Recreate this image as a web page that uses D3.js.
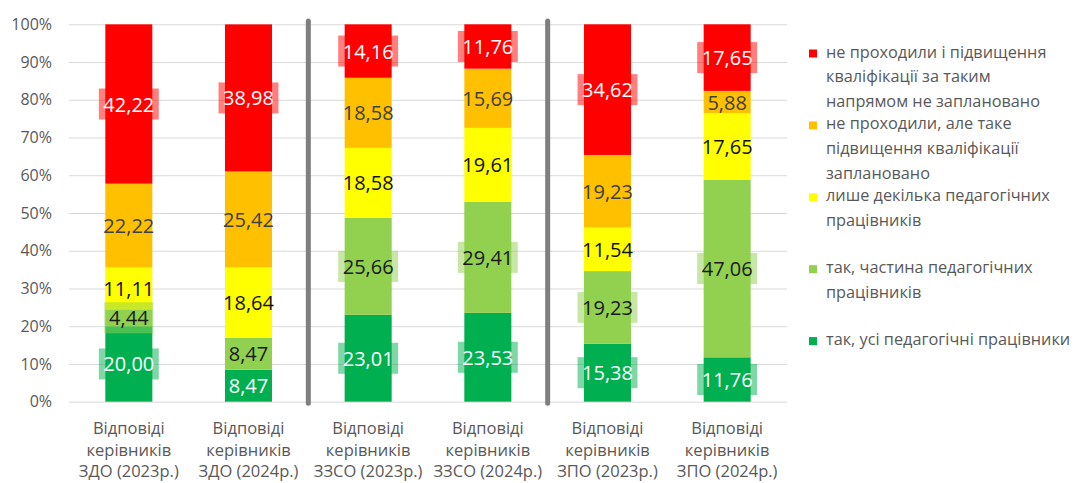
<!DOCTYPE html>
<html>
<head>
<meta charset="utf-8">
<script src="https://cdn.jsdelivr.net/npm/d3@7"></script>
<style>
  body { margin: 0; background: #fff; }
  svg { font-family: "Open Sans", sans-serif; display: block; }
</style>
</head>
<body>
<div id="chart"></div>
<script>
/**
 * Data
 */
const categories = [
    ["Відповіді", "керівників", "ЗДО (2023р.)"],
    ["Відповіді", "керівників", "ЗДО (2024р.)"],
    ["Відповіді", "керівників", "ЗЗСО (2023р.)"],
    ["Відповіді", "керівників", "ЗЗСО (2024р.)"],
    ["Відповіді", "керівників", "ЗПО (2023р.)"],
    ["Відповіді", "керівників", "ЗПО (2024р.)"]
];
// stacked bottom -> top
const allTeachers  = [20.00, 8.47, 23.01, 23.53, 15.38, 11.76];
const someTeachers = [4.44, 8.47, 25.66, 29.41, 19.23, 47.06];
const fewTeachers  = [11.11, 18.64, 18.58, 19.61, 11.54, 17.65];
const plannedOnly  = [22.22, 25.42, 18.58, 15.69, 19.23, 5.88];
const notPlanned   = [42.22, 38.98, 14.16, 11.76, 34.62, 17.65];

const seriesNames = {
    notPlanned: ["не проходили і підвищення", "кваліфікації за таким", "напрямом не заплановано"],
    plannedOnly: ["не проходили, але таке", "підвищення кваліфікації", "заплановано"],
    fewTeachers: ["лише декілька педагогічних", "працівників"],
    someTeachers: ["так, частина педагогічних", "працівників"],
    allTeachers: ["так, усі педагогічні працівники"]
};
const yTicks = [0, 10, 20, 30, 40, 50, 60, 70, 80, 90, 100];

/**
 * Styles
 */
const width = 1077, height = 483,
    margin = { top: 24.3, bottom: 81.3, left: 69, right: 290 },
    colors = {
        allTeachers: "#00b050", someTeachers: "#92d050", fewTeachers: "#ffff00",
        plannedOnly: "#ffc000", notPlanned: "#ff0000"
    },
    labelColors = {
        allTeachers: "#ffffff", someTeachers: "#1a1a1a", fewTeachers: "#111111",
        plannedOnly: "#404040", notPlanned: "#ffffff"
    },
    boxedSeries = ["notPlanned", "someTeachers", "allTeachers"],
    unboxed = new Set(["someTeachers-1", "allTeachers-1"]),
    grey = "#595959",
    fmt = d3.formatLocale({ decimal: ",", thousands: " ", grouping: [3], currency: ["", ""] }).format(".2f");

const stackKeys = ["allTeachers", "someTeachers", "fewTeachers", "plannedOnly", "notPlanned"];
const legendKeys = stackKeys.slice().reverse();
const seriesData = { allTeachers, someTeachers, fewTeachers, plannedOnly, notPlanned };

const rows = categories.map((c, i) => {
    const r = { cat: c.join(" ") };
    stackKeys.forEach(k => r[k] = seriesData[k][i]);
    return r;
});

const stacked = d3.stack().keys(stackKeys)(rows);

const svg = d3.select("#chart").append("svg")
    .attr("width", width).attr("height", height);

// SCALES
const xScale = d3.scaleBand()
    .domain(rows.map(d => d.cat))
    .range([margin.left, width - margin.right])
    .paddingInner(0.607)
    .paddingOuter(0.3035);

const yScale = d3.scaleLinear()
    .domain([0, 100])
    .range([height - margin.bottom, margin.top]);

// gridlines + y labels
const yAxis = d3.axisLeft(yScale)
    .tickValues(yTicks)
    .tickFormat(d => d + "%")
    .tickSize(-(width - margin.right - margin.left))
    .tickPadding(17);

svg.append("g")
    .attr("class", "y-axis")
    .attr("transform", `translate(${margin.left},0)`)
    .call(yAxis)
    .call(g => g.select(".domain").remove())
    .call(g => g.selectAll("line").attr("stroke", "#d9d9d9"))
    .call(g => g.selectAll("text")
        .attr("fill", grey)
        .attr("font-size", 16)
        .attr("font-family", "Open Sans, sans-serif"));

// BARS
const layer = svg.append("g").selectAll("g")
    .data(stacked)
    .join("g")
    .attr("fill", s => colors[s.key]);

layer.selectAll("rect")
    .data(s => s)
    .join("rect")
    .attr("x", d => xScale(d.data.cat))
    .attr("width", xScale.bandwidth())
    .attr("y", d => yScale(d[1]))
    .attr("height", d => yScale(d[0]) - yScale(d[1]));

// separators between groups
const step = xScale.step();
[1, 3].forEach(i => {
    const xs = xScale(rows[i].cat) + xScale.bandwidth() / 2 + step / 2;
    svg.append("line")
        .attr("x1", xs).attr("x2", xs)
        .attr("y1", 21).attr("y2", yScale(0) + 1.5)
        .attr("stroke", "#7f7f7f")
        .attr("stroke-width", 5)
        .attr("stroke-linecap", "round");
});

// DATA LABELS
const labels = [];
stacked.forEach(s => s.forEach((d, i) => labels.push({
    key: s.key, i, value: d.data[s.key],
    cx: xScale(d.data.cat) + xScale.bandwidth() / 2,
    cy: yScale((d[0] + d[1]) / 2)
})));

const boxG = svg.append("g");
const textG = svg.append("g");

const texts = textG.selectAll("text")
    .data(labels)
    .join("text")
    .attr("x", d => d.cx)
    .attr("y", d => d.cy + 7.5)
    .attr("text-anchor", "middle")
    .attr("font-size", 20)
    .attr("fill", d => labelColors[d.key])
    .text(d => fmt(d.value));

texts.each(function (d) {
    if (!boxedSeries.includes(d.key) || unboxed.has(d.key + "-" + d.i)) return;
    const w = this.getBBox().width + 9;
    boxG.append("rect")
        .attr("x", d.cx - w / 2)
        .attr("y", d.cy - 15.5)
        .attr("width", w)
        .attr("height", 31)
        .attr("fill", colors[d.key])
        .attr("opacity", 0.5);
});

// X CATEGORY LABELS
svg.append("g").selectAll("text")
    .data(rows.map((r, i) => ({ cat: r.cat, lines: categories[i] })))
    .join("text")
    .attr("text-anchor", "middle")
    .attr("fill", grey)
    .attr("font-size", 16.5)
    .attr("x", d => xScale(d.cat) + xScale.bandwidth() / 2)
    .selectAll("tspan")
    .data(d => d.lines)
    .join("tspan")
    .attr("x", function () { return d3.select(this.parentNode).attr("x"); })
    .attr("y", (d, j) => 434 + j * 21.5)
    .text(d => d);

// LEGEND
const legend = svg.append("g")
    .attr("transform", "translate(809, 57.5)");

const item = legend.selectAll("g")
    .data(legendKeys)
    .join("g")
    .attr("transform", (d, i) => `translate(0, ${i * 71.9})`);

item.append("rect")
    .attr("x", 0).attr("y", -8)
    .attr("width", 8).attr("height", 8)
    .attr("fill", d => colors[d]);

item.append("text")
    .attr("fill", grey)
    .attr("font-size", 16.3)
    .selectAll("tspan")
    .data(d => seriesNames[d])
    .join("tspan")
    .attr("x", 17)
    .attr("y", (d, j) => j * 24.8)
    .text(d => d);
</script>
</body>
</html>
